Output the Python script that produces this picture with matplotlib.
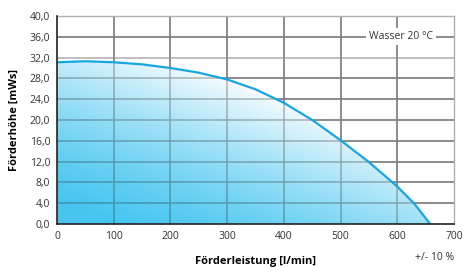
import matplotlib.pyplot as plt
import numpy as np

# Kennlinie
flow = [0, 50, 100, 150, 200, 250, 300, 350, 400, 450, 500, 550, 600, 630, 658]
head = [31.1, 31.3, 31.1, 30.7, 30.0, 29.1, 27.8, 25.9, 23.3, 20.0, 16.1, 11.9, 7.2, 3.9, 0.0]

x_ticks = [0, 100, 200, 300, 400, 500, 600, 700]
y_ticks = [0, 4, 8, 12, 16, 20, 24, 28, 32, 36, 40]
y_labels = [("%.1f" % v).replace(".", ",") for v in y_ticks]

plt.rcParams['font.family'] = ['Open Sans', 'DejaVu Sans']

fig = plt.figure(figsize=(4.65, 2.67), dpi=100)
ax = fig.add_axes([57 / 465, 1 - 224 / 267, (454 - 57) / 465, (224 - 16) / 267])
ax.set_xlim(0, 700)
ax.set_ylim(0, 40)

# grid below the (semi transparent) fill
for v in y_ticks[1:-1]:
    c = '#b8b8b8' if v == 32 else '#808080'
    ax.axhline(v, color=c, lw=1.2, zorder=0.5)
for v in x_ticks[1:-1]:
    ax.axvline(v, color='#808080', lw=1.2, zorder=0.5)

# gradient under the curve: blue bottom-left -> white near the curve
xx, yy = np.meshgrid(np.linspace(0, 700, 350), np.linspace(0, 40, 220))
px = xx * 397 / 700
py = yy * 208 / 40
t = (0.342 * px + 0.94 * py) / 200
f = np.clip(t, 0, 1) ** 1.5
blue = np.array([64, 196, 240]) / 255
target = (1 - f)[..., None] * blue + f[..., None] * 1.0
a = 0.72
rgb = np.clip((target - (1 - a)) / a, 0, 1)
rgba = np.dstack([rgb, np.full(f.shape, a)])
img = ax.imshow(rgba, extent=[0, 700, 0, 40], origin='lower', aspect='auto', zorder=1)
poly = ax.fill_between(flow, head, 0, color='none', lw=0)
img.set_clip_path(poly.get_paths()[0], transform=ax.transData)

# faint grid on top
for v in y_ticks[1:-1]:
    c = '#b8b8b8' if v == 32 else '#808080'
    ax.axhline(v, color=c, lw=1.2, alpha=0.3, zorder=2)
for v in x_ticks[1:-1]:
    ax.axvline(v, color='#808080', lw=1.2, alpha=0.3, zorder=2)

ax.plot(flow, head, color='#18a6e2', lw=1.6, zorder=4, solid_joinstyle='round')

ax.text(606, 36, "Wasser 20 °C", ha='center', va='center', fontsize=7.5, color='#333333',
        zorder=3, bbox=dict(facecolor='white', edgecolor='none', pad=2))

ax.set_xticks(x_ticks)
ax.set_yticks(y_ticks)
ax.set_yticklabels(y_labels)
ax.tick_params(length=0, labelsize=7.5, labelcolor='#333333', pad=5)

for s in ['top', 'right']:
    ax.spines[s].set_color('#b0b0b0')
    ax.spines[s].set_linewidth(1.0)
for s in ['bottom', 'left']:
    ax.spines[s].set_color('#222222')
    ax.spines[s].set_linewidth(1.2)
    ax.spines[s].set_zorder(5)

ax.set_xlabel("Förderleistung [l/min]", fontsize=8, fontweight='bold', labelpad=10)
ax.set_ylabel("Förderhöhe [mWs]", fontsize=8, fontweight='bold', labelpad=7)
fig.text(454 / 465, 1 - 258 / 267, "+/- 10 %", ha='right', va='center', fontsize=7.5,
         color='#333333')

fig.savefig("out.png", dpi=100)
